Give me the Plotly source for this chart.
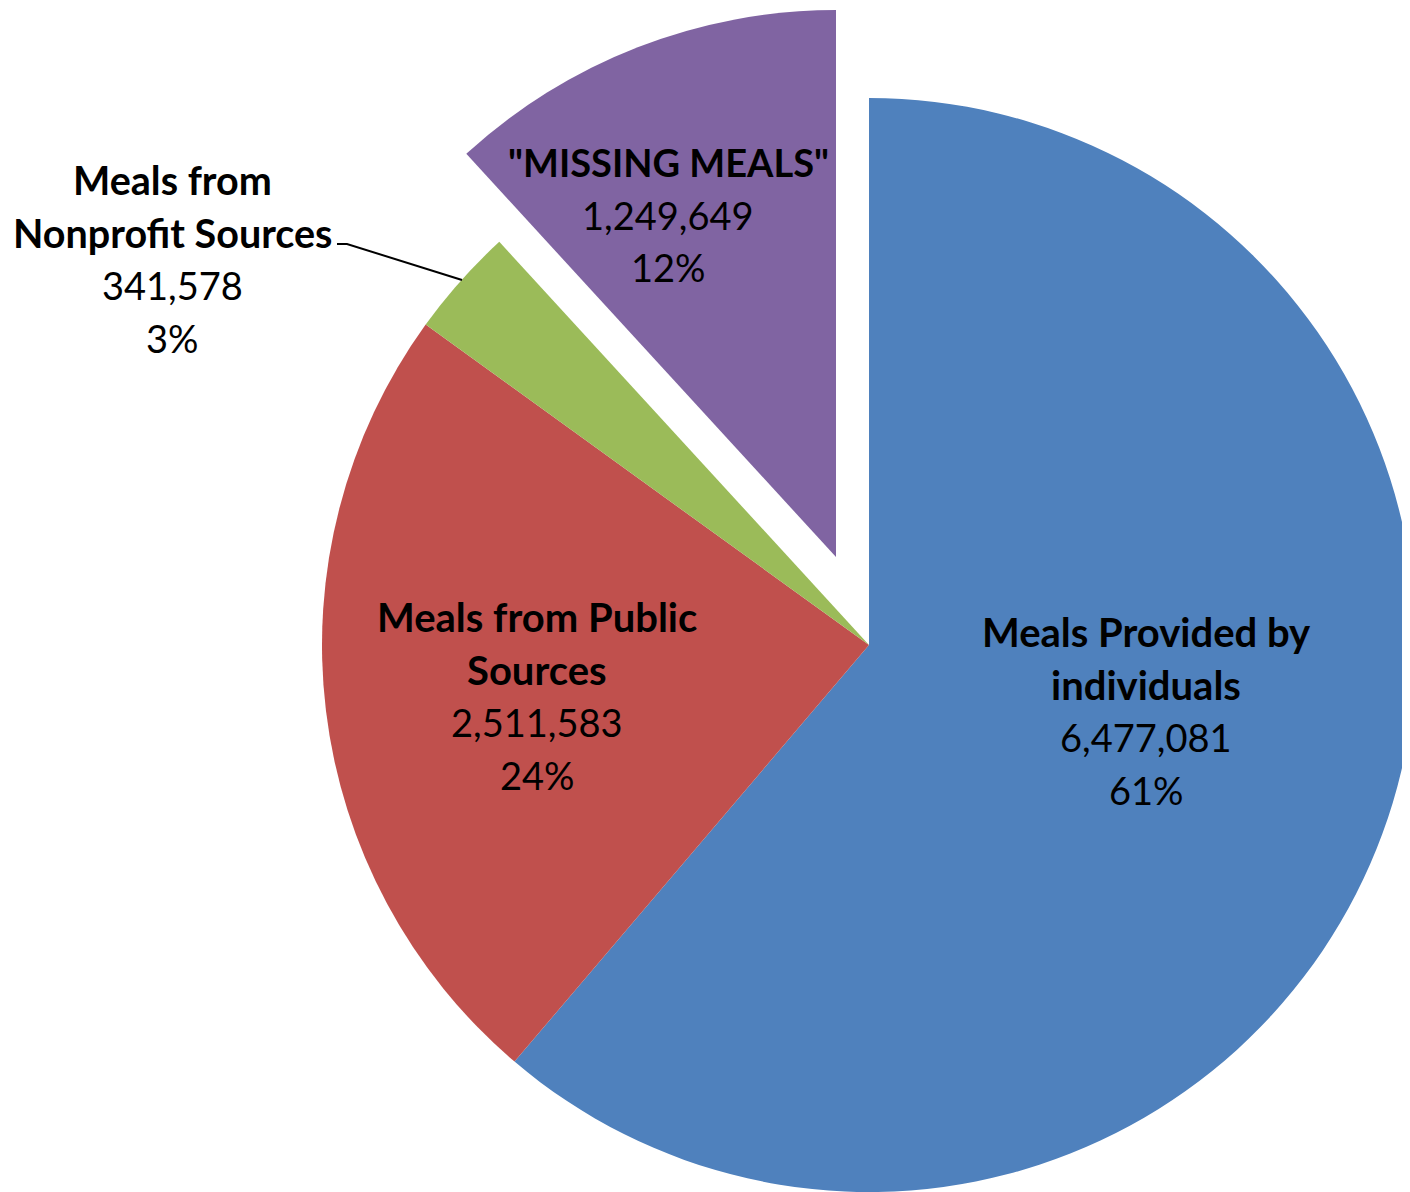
import plotly.graph_objects as go

# ---- data ----
categories = ["Meals Provided by individuals", "Meals from Public Sources",
              "Meals from Nonprofit Sources", "\"MISSING MEALS\""]
values = [6477081, 2511583, 341578, 1249649]
colors = ["#4F81BD", "#C0504D", "#9BBB59", "#8064A2"]
name_lines = [["Meals Provided by", "individuals"],
              ["Meals from Public", "Sources"],
              ["Meals from", "Nonprofit Sources"],
              ["\"MISSING MEALS\""]]

W, H = 1410, 1192
OFF = 8  # page margin of the html body
total = sum(values)
pct = [round(v / total * 100) for v in values]


def px(x):
    return (x - OFF) / W


def py(y):
    return 1 - (y - OFF) / H


R = 547
main_c = (869, 645)
pull_c = (836, 557)


def dom(c):
    return dict(x=[px(c[0] - R), px(c[0] + R)], y=[py(c[1] + R), py(c[1] - R)])


clear = "rgba(0,0,0,0)"
fig = go.Figure()
fig.add_trace(go.Pie(
    labels=categories, values=values, sort=False, direction="clockwise", rotation=0,
    marker=dict(colors=colors[:3] + [clear], line=dict(width=0)),
    textinfo="none", hoverinfo="skip", showlegend=False, domain=dom(main_c)))
fig.add_trace(go.Pie(
    labels=categories, values=values, sort=False, direction="clockwise", rotation=0,
    marker=dict(colors=[clear, clear, clear, colors[3]], line=dict(width=0)),
    textinfo="none", hoverinfo="skip", showlegend=False, domain=dom(pull_c)))

# label layout: (center x, first line y) in pixels, bold size
label_pos = [(1146, 632), (537, 617), (172, 180), (668, 162)]
bold_size = [40, 40, 39.5, 38]
step = 52.5
FONT = "Lato"
SIZE = 38

annotations = []
for i in range(4):
    lines = [("<b>%s</b>" % t, bold_size[i]) for t in name_lines[i]]
    lines += [("{:,}".format(values[i]), SIZE), ("%d%%" % pct[i], SIZE)]
    x0, y0 = label_pos[i]
    for k, (t, s) in enumerate(lines):
        annotations.append(dict(
            x=px(x0), y=py(y0 + k * step), xref="paper", yref="paper",
            text=t, showarrow=False, xanchor="center", yanchor="middle",
            font=dict(family=FONT, size=s, color="black")))

shapes = [dict(type="path", xref="paper", yref="paper",
               path="M %f,%f L %f,%f L %f,%f" % (px(337), py(244), px(347), py(244), px(462), py(280)),
               line=dict(color="black", width=2))]

fig.update_layout(width=W, height=H, margin=dict(l=0, r=0, t=0, b=0),
                  paper_bgcolor="white", plot_bgcolor="white",
                  annotations=annotations, shapes=shapes)
fig.write_html("out.html")
